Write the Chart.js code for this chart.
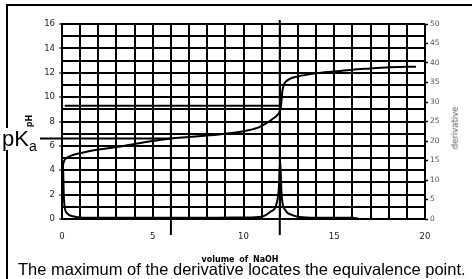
<!DOCTYPE html>
<html lang="en">
<head>
<meta charset="UTF-8">
<title>Titration curve</title>
<script src="https://cdn.jsdelivr.net/npm/chart.js@4/dist/chart.umd.min.js"></script>
<style>
    body { margin: 0; background: #fff; overflow: hidden; }
    #wrap { position: relative; width: 472px; height: 279px; overflow: hidden; }
    #frame { position: absolute; left: 6px; top: 4px; width: 600px; height: 400px;
             border-left: 2px solid #000; border-top: 2px solid #000; }
    #chart { position: absolute; left: 0; top: 0; }
    .txt { position: absolute; white-space: nowrap; color: #000; line-height: 1; }
    #pka { left: 2px; top: 128px; font-family: "Liberation Sans", Arial, sans-serif; font-size: 22px;
           background: #fff; padding-right: 1px; }
    #pka span { font-size: 14px; position: relative; top: 5px; }
    #xtitle { left: 240px; top: 256px; transform: translateX(-50%);
              font-family: "DejaVu Sans", sans-serif; font-weight: bold; font-size: 8px; word-spacing: 2px; }
    #ytitle { left: 30px; top: 121px; transform: translate(-50%, -50%) rotate(-90deg);
              font-family: "DejaVu Sans", sans-serif; font-weight: bold; font-size: 8px; }
    #y1title { left: 455px; top: 128px; transform: translate(-50%, -50%) rotate(-90deg);
               font-family: "DejaVu Sans", sans-serif; font-weight: normal; font-size: 8.5px; color: #555; }
    #caption { left: 18px; top: 261px; font-family: "Liberation Sans", Arial, sans-serif; font-size: 16.5px; }
</style>
</head>
<body>
<div id="wrap">
    <div id="frame"></div>
    <canvas id="chart" width="472" height="279"></canvas>
    <div id="pka" class="txt">pK<span>a</span></div>
    <div id="ytitle" class="txt">pH</div>
    <div id="y1title" class="txt">derivative</div>
    <div id="xtitle" class="txt">volume of NaOH</div>
    <div id="caption" class="txt">The maximum of the derivative locates the equivalence point.</div>
</div>
<script>
    // pH curve
    var phVol = [0, 0.05, 0.15, 0.3, 0.6, 1, 2, 3, 4, 5, 6, 7, 8, 9, 10, 10.8, 11.2, 11.6, 11.9, 12.05, 12.15, 12.25, 12.5, 13, 14, 15, 16, 17, 18, 19, 19.5]
    var phVal = [3.9, 4.4, 4.85, 5.05, 5.25, 5.4, 5.7, 5.9, 6.15, 6.4, 6.6, 6.72, 6.85, 7.0, 7.2, 7.5, 7.8, 8.2, 8.6, 9.1, 10.6, 11.1, 11.45, 11.7, 11.95, 12.1, 12.25, 12.35, 12.45, 12.5, 12.5]

    // first derivative
    var dVol = [0.05, 0.1, 0.15, 0.3, 0.6, 1, 2, 4, 6, 8, 10, 11, 11.5, 11.8, 11.95, 12.02, 12.1, 12.3, 12.7, 13.1, 14, 15, 16, 16.4]
    var dVal = [15, 6, 3, 1.4, 0.7, 0.4, 0.3, 0.3, 0.3, 0.3, 0.4, 0.6, 1.9, 3.6, 8, 15, 6, 2.3, 1, 0.5, 0.3, 0.3, 0.3, 0]

    // guide lines
    var eqVol = 12
    var halfVol = 6
    var pKa = 6.6
    var eqPH = 9.3
    var halfTop = 7.9

    function pts(xs, ys) {
        var out = []
        for (let i = 0; i < xs.length; i++) out.push({ x: xs[i], y: ys[i] })
        return out
    }

    var guides = {
        id: 'guides',
        afterDatasetsDraw(chart) {
            const ctx = chart.ctx
            const area = chart.chartArea
            const x = chart.scales.x
            const y = chart.scales.y
            function seg(x1, y1, x2, y2) {
                ctx.beginPath(); ctx.moveTo(x1, y1); ctx.lineTo(x2, y2); ctx.stroke()
            }
            ctx.save()
            ctx.strokeStyle = '#000'
            ctx.lineWidth = 2
            var xe = x.getPixelForValue(eqVol)
            seg(xe, area.top - 4, xe, area.bottom + 16)
            var xh = x.getPixelForValue(halfVol)
            seg(xh, y.getPixelForValue(halfTop), xh, area.bottom + 16)
            seg(40, y.getPixelForValue(pKa), xh, y.getPixelForValue(pKa))
            seg(x.getPixelForValue(0.15), y.getPixelForValue(eqPH), xe, y.getPixelForValue(eqPH))
            ctx.restore()
        }
    }

    var tickFont = { family: 'DejaVu Sans', size: 8.5 }

    new Chart(document.getElementById('chart'), {
        type: 'line',
        data: {
            datasets: [{
                data: pts(phVol, phVal),
                yAxisID: 'y',
                borderColor: '#000',
                borderWidth: 2,
                pointRadius: 0,
                cubicInterpolationMode: 'monotone'
            }, {
                data: pts(dVol, dVal),
                yAxisID: 'y1',
                borderColor: '#000',
                borderWidth: 2,
                pointRadius: 0,
                cubicInterpolationMode: 'monotone'
            }]
        },
        options: {
            responsive: false,
            animation: false,
            devicePixelRatio: 1,
            layout: { padding: { top: 24, left: 0, right: 0, bottom: 0 } },
            plugins: { legend: { display: false }, tooltip: { enabled: false } },
            scales: {
                x: {
                    type: 'linear', min: 0, max: 20,
                    afterFit: function (s) { s.height = 60 },
                    ticks: {
                        stepSize: 1, autoSkip: false, maxRotation: 0, padding: 13,
                        font: tickFont, color: '#222',
                        callback: function (v) { return v % 5 === 0 ? v : '' }
                    },
                    grid: { color: '#000', lineWidth: 2, drawTicks: false },
                    border: { color: '#000', width: 2 }
                },
                y: {
                    position: 'left', min: 0, max: 16,
                    afterFit: function (s) { s.width = 62 },
                    ticks: {
                        stepSize: 1, autoSkip: false, padding: 4,
                        font: tickFont, color: '#222',
                        callback: function (v) { return v % 2 === 0 ? v : '' }
                    },
                    grid: {
                        color: '#000', lineWidth: 2, tickLength: 3, tickWidth: 1,
                        tickColor: function (c) { return c.tick && c.tick.value % 2 === 0 ? '#000' : 'rgba(0,0,0,0)' }
                    },
                    border: { color: '#000', width: 2 }
                },
                y1: {
                    position: 'right', min: 0, max: 50,
                    afterFit: function (s) { s.width = 47 },
                    ticks: {
                        stepSize: 5, autoSkip: false, padding: 2,
                        font: { family: 'DejaVu Sans', size: 7.5 }, color: '#555'
                    },
                    grid: { drawOnChartArea: false, tickLength: 3, tickColor: '#000', tickWidth: 1.5 },
                    border: { display: false }
                }
            }
        },
        plugins: [guides]
    })
</script>
</body>
</html>
